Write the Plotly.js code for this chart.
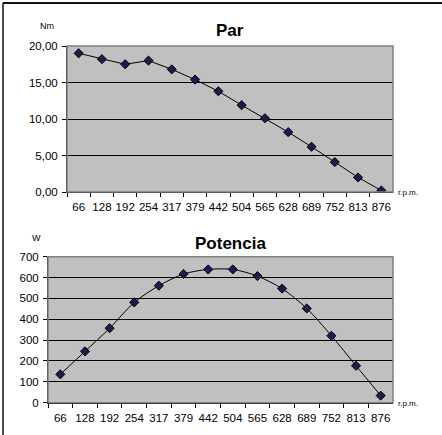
<!DOCTYPE html>
<html>
<head>
<meta charset="utf-8">
<script src="https://cdn.plot.ly/plotly-3.0.1.min.js"></script>
<style>html,body{margin:0;padding:0;background:#fff;}#chart{width:442px;height:435px;}</style>
</head>
<body>
<div id="chart"></div>
<script>
var rpm = ["66","128","192","254","317","379","442","504","565","628","689","752","813","876"];
var par = [19.0, 18.2, 17.5, 18.0, 16.8, 15.4, 13.8, 11.9, 10.1, 8.2, 6.2, 4.1, 2.0, 0.2];
var potencia = [136, 246, 357, 481, 561, 617, 639, 639, 607, 547, 452, 321, 177, 34];

var W = 442, H = 435;
function px(x){return x/W;}
function py(y){return 1 - y/H;}

var marker = {symbol:'diamond', size:7, color:'#1c1c52', line:{color:'#000', width:1}};
var fontTick = {family:'Liberation Sans, Arial, sans-serif', size:11.5, color:'#000'};

var traces = [
  {x:rpm, y:par, xaxis:'x', yaxis:'y', type:'scatter', mode:'lines+markers',
   line:{color:'#000', width:1}, marker:marker, hoverinfo:'none'},
  {x:rpm, y:potencia, xaxis:'x2', yaxis:'y2', type:'scatter', mode:'lines+markers',
   line:{color:'#000', width:1, shape:'spline', smoothing:0.8}, marker:marker, hoverinfo:'none'}
];

function xax(dom, anchor){
  return {domain:dom, anchor:anchor, type:'category', range:[-0.5,13.5], fixedrange:true,
    showgrid:false, zeroline:false, showline:true, linecolor:'#000', linewidth:1,
    ticks:'outside', tickson:'boundaries', ticklen:4, tickcolor:'#000', tickwidth:1,
    tickfont:fontTick, tickangle:0, ticklabelstandoff:4, mirror:false};
}
function yax(dom, anchor, range, dtick, fmt){
  return {domain:dom, anchor:anchor, range:range, dtick:dtick, tick0:0, tickformat:fmt, fixedrange:true,
    showgrid:true, gridcolor:'#000', gridwidth:1, zeroline:false, showline:true, linecolor:'#000', linewidth:1,
    ticks:'outside', ticklen:4, tickcolor:'#000', tickwidth:1, tickfont:fontTick, ticklabelstandoff:2};
}

function ann(text, x, y, size, xanchor, bold){
  return {text: bold ? '<b>'+text+'</b>' : text, x:px(x), y:py(y), xref:'paper', yref:'paper',
    xanchor:xanchor, yanchor:'middle', showarrow:false,
    font:{family:'Liberation Sans, Arial, sans-serif', color:'#000', size:size}};
}

var layout = {
  width:W, height:H, margin:{l:0,r:0,t:0,b:0}, showlegend:false,
  paper_bgcolor:'#fff', plot_bgcolor:'#c0c0c0', separators:',.',
  xaxis: xax([px(67), px(393)], 'y'),
  yaxis: yax([py(192), py(46)], 'x', [0,20], 5, '.2f'),
  xaxis2: xax([px(48), px(393)], 'y2'),
  yaxis2: yax([py(402.7), py(256.7)], 'x2', [0,700], 100, 'd'),
  annotations:[
    ann('Par', 230, 31, 17, 'center', true),
    ann('Potencia', 230, 243, 17, 'center', true),
    ann('Nm', 47, 26, 9, 'center', false),
    ann('W', 36, 238, 9, 'center', false),
    ann('r.p.m.', 396, 193, 8, 'left', false),
    ann('r.p.m.', 396, 403, 8, 'left', false)
  ],
  shapes:[
    {type:'rect', xref:'x domain', yref:'y domain', x0:0, x1:1, y0:0, y1:1, line:{color:'#808080', width:1.5}, layer:'above'},
    {type:'rect', xref:'x2 domain', yref:'y2 domain', x0:0, x1:1, y0:0, y1:1, line:{color:'#808080', width:1.5}, layer:'above'},
    {type:'line', xref:'paper', yref:'paper', x0:px(3), x1:1, y0:py(3), y1:py(3), line:{color:'#111', width:2}},
    {type:'line', xref:'paper', yref:'paper', x0:px(3), x1:px(3), y0:py(3), y1:0, line:{color:'#111', width:1.5}}
  ]
};

Plotly.newPlot('chart', traces, layout, {staticPlot:true, displayModeBar:false});
</script>
</body>
</html>
